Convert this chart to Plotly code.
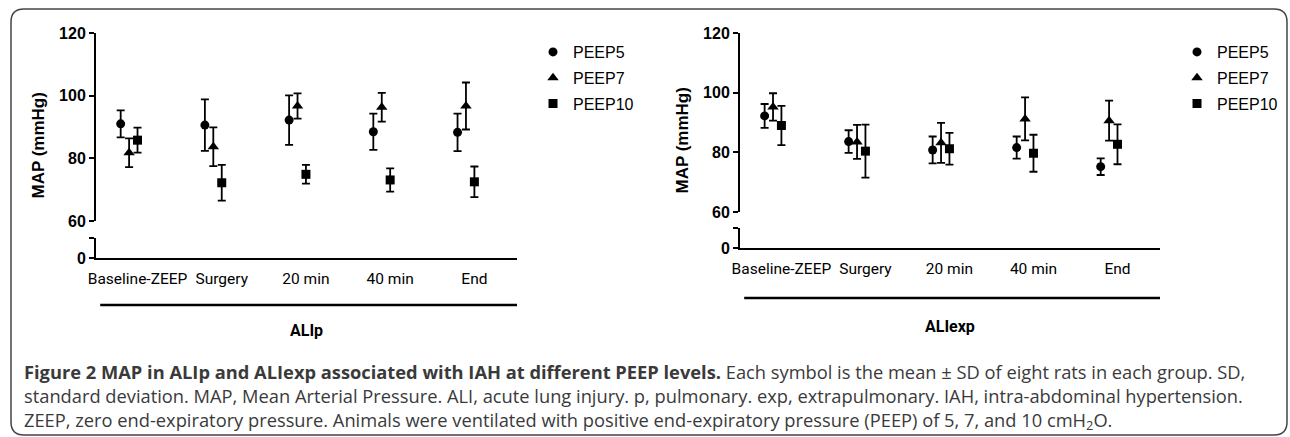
import plotly.graph_objects as go

W, H = 1290, 437

categories = ["Baseline-ZEEP", "Surgery", "20 min", "40 min", "End"]
series_names = ["PEEP5", "PEEP7", "PEEP10"]

# ALIp panel (mean, SD)
alip_peep5_mean = [91.0, 90.6, 92.2, 88.5, 88.3]
alip_peep5_sd = [4.3, 8.2, 7.9, 5.8, 6.0]
alip_peep7_mean = [81.8, 83.7, 96.7, 96.3, 96.7]
alip_peep7_sd = [4.6, 6.2, 4.0, 4.6, 7.5]
alip_peep10_mean = [85.8, 72.2, 74.9, 73.1, 72.5]
alip_peep10_sd = [4.0, 5.7, 3.0, 3.7, 4.9]

# ALIexp panel (mean, SD)
aliexp_peep5_mean = [92.2, 83.6, 80.8, 81.6, 75.2]
aliexp_peep5_sd = [4.0, 3.8, 4.5, 3.7, 2.8]
aliexp_peep7_mean = [95.2, 83.5, 83.2, 91.2, 90.6]
aliexp_peep7_sd = [4.6, 5.7, 6.7, 7.2, 6.7]
aliexp_peep10_mean = [89.0, 80.4, 81.2, 79.7, 82.7]
aliexp_peep10_sd = [6.6, 8.9, 5.3, 6.2, 6.7]

y_ticks_upper = [60, 80, 100, 120]
y_ticks_lower = [0]
y_break_tick = [5]

panel_titles = ["ALIp", "ALIexp"]

caption_lines = [
    "<b>Figure 2 MAP in ALIp and ALIexp associated with IAH at different PEEP levels.</b> "
    "Each symbol is the mean \u00b1 SD of eight rats in each group. SD,",
    "standard deviation. MAP, Mean Arterial Pressure. ALI, acute lung injury. p, pulmonary. "
    "exp, extrapulmonary. IAH, intra-abdominal hypertension.",
    "ZEEP, zero end-expiratory pressure. Animals were ventilated with positive "
    "end-expiratory pressure (PEEP) of 5, 7, and 10 cmH<sub>2</sub>O.",
]

symbols = ["circle", "triangle-up", "square"]
sizes = [9, 10, 9]
offsets = [-0.1, 0.0, 0.1]

ROBOTO = "Roboto, Liberation Sans, Arial, sans-serif"
ARIAL = "Liberation Sans, Arial, sans-serif"
CAPFONT = "Open Sans, Noto Sans, sans-serif"


def px_x(p):
    return p / W


def px_y(p):
    return 1 - p / H


fig = go.Figure()

panels = [
    dict(means=[alip_peep5_mean, alip_peep7_mean, alip_peep10_mean],
         sds=[alip_peep5_sd, alip_peep7_sd, alip_peep10_sd],
         xa="x", ya="y", yl="y2", legend="legend",
         xdom=(96, 517), up=(33, 221), low=(238, 258)),
    dict(means=[aliexp_peep5_mean, aliexp_peep7_mean, aliexp_peep10_mean],
         sds=[aliexp_peep5_sd, aliexp_peep7_sd, aliexp_peep10_sd],
         xa="x2", ya="y3", yl="y4", legend="legend2",
         xdom=(740, 1160), up=(33, 212), low=(228, 248)),
]

idx = list(range(len(categories)))

for p in panels:
    for k in range(3):
        fig.add_trace(go.Scatter(
            x=[i + offsets[k] for i in idx],
            y=p["means"][k],
            mode="markers",
            name=series_names[k],
            legendgroup=f"{p['legend']}_{k}",
            marker=dict(symbol=symbols[k], size=sizes[k], color="black"),
            error_y=dict(type="data", array=p["sds"][k], visible=True,
                         color="black", thickness=1.8, width=4),
            xaxis=p["xa"], yaxis=p["ya"], legend=p["legend"],
            showlegend=True, hoverinfo="x+y",
        ))
    # empty trace so the lower (broken) axis segment is created
    fig.add_trace(go.Scatter(x=[None], y=[None], mode="markers", showlegend=False,
                             xaxis=p["xa"], yaxis=p["yl"], hoverinfo="skip"))

xrange = [-0.393, 4.606]

common_y = dict(showline=True, linecolor="black", linewidth=2, ticks="outside",
                ticklen=5, tickwidth=2, tickcolor="black", showgrid=False,
                zeroline=False, automargin=False,
                tickfont=dict(family=ARIAL, size=16, color="black", weight="bold"))

layout = dict(
    width=W, height=H,
    margin=dict(l=0, r=0, t=0, b=0, pad=0, autoexpand=False),
    paper_bgcolor="white", plot_bgcolor="white",
    showlegend=True,
)

for n, p in enumerate(panels):
    xname = "xaxis" if n == 0 else "xaxis2"
    yup = "yaxis" if n == 0 else "yaxis3"
    ylow = "yaxis2" if n == 0 else "yaxis4"
    xid = p["xa"]
    layout[xname] = dict(
        domain=[px_x(p["xdom"][0]), px_x(p["xdom"][1])],
        range=xrange, anchor=p["yl"],
        showline=True, linecolor="black", linewidth=2,
        tickvals=[i + 0.1 for i in idx], ticktext=categories,
        ticks="outside", ticklen=5, tickcolor="rgba(0,0,0,0)", tickangle=0,
        tickfont=dict(family=ROBOTO, size=15.5, color="black"),
        showgrid=False, zeroline=False, automargin=False,
    )
    layout[yup] = dict(
        domain=[px_y(p["up"][1]), px_y(p["up"][0])],
        range=[60, 120], tickvals=y_ticks_upper, anchor=xid, **common_y,
    )
    layout[ylow] = dict(
        domain=[px_y(p["low"][1]), px_y(p["low"][0])],
        range=[0, 5], tickvals=y_ticks_lower,
        minor=dict(tickvals=y_break_tick, ticks="outside", ticklen=5,
                   tickwidth=2, tickcolor="black", showgrid=False),
        anchor=xid, **common_y,
    )

legend_common = dict(font=dict(family=ARIAL, size=16, color="black"),
                     bgcolor="rgba(0,0,0,0)", borderwidth=0,
                     traceorder="grouped", tracegroupgap=2,
                     xanchor="left", yanchor="top", itemclick=False)
layout["legend"] = dict(x=px_x(533), y=px_y(35), **legend_common)
layout["legend2"] = dict(x=px_x(1177), y=px_y(35), **legend_common)

fig.update_layout(**layout)

# y-axis titles
for n, p in enumerate(panels):
    xt = 38 if n == 0 else 682
    yt = (p["up"][0] + p["low"][1]) / 2
    fig.add_annotation(x=px_x(xt), y=px_y(yt), xref="paper", yref="paper",
                       xanchor="center", yanchor="middle",
                       text="<b>MAP (mmHg)</b>", textangle=-90, showarrow=False,
                       font=dict(family=ARIAL, size=17, color="black"))

# group brackets and group labels
bracket_y = [305, 298]
label_y = [330, 326]
for n, p in enumerate(panels):
    xid = p["xa"]
    fig.add_shape(type="line", xref=f"{xid} domain", yref="paper",
                  x0=0.01, x1=1.0, y0=px_y(bracket_y[n]), y1=px_y(bracket_y[n]),
                  line=dict(color="black", width=2.5))
    fig.add_annotation(x=0.5, y=px_y(label_y[n]), xref=f"{xid} domain", yref="paper",
                       xanchor="center", yanchor="middle",
                       text=f"<b>{panel_titles[n]}</b>", showarrow=False,
                       font=dict(family=ROBOTO, size=16, color="black"))

# caption (one multi-line text block)
fig.add_annotation(x=px_x(22), y=px_y(396.5), xref="paper", yref="paper",
                   xanchor="left", yanchor="middle", text="<br>".join(caption_lines),
                   showarrow=False, align="left",
                   font=dict(family=CAPFONT, size=18.3, color="#3a3a3a"))

# rounded frame
x0, x1, y0, y1, r = 11, 1287, 9, 435, 13
def P(a, b):
    return f"{px_x(a):.5f},{px_y(b):.5f}"
path = (f"M {P(x0 + r, y0)} L {P(x1 - r, y0)} Q {P(x1, y0)} {P(x1, y0 + r)} "
        f"L {P(x1, y1 - r)} Q {P(x1, y1)} {P(x1 - r, y1)} "
        f"L {P(x0 + r, y1)} Q {P(x0, y1)} {P(x0, y1 - r)} "
        f"L {P(x0, y0 + r)} Q {P(x0, y0)} {P(x0 + r, y0)} Z")
fig.add_shape(type="path", path=path, xref="paper", yref="paper",
              line=dict(color="#444444", width=1.5), fillcolor="rgba(0,0,0,0)")

fig.write_html("out.html", config={"displayModeBar": False},
               post_script="document.body.style.margin='0';")
